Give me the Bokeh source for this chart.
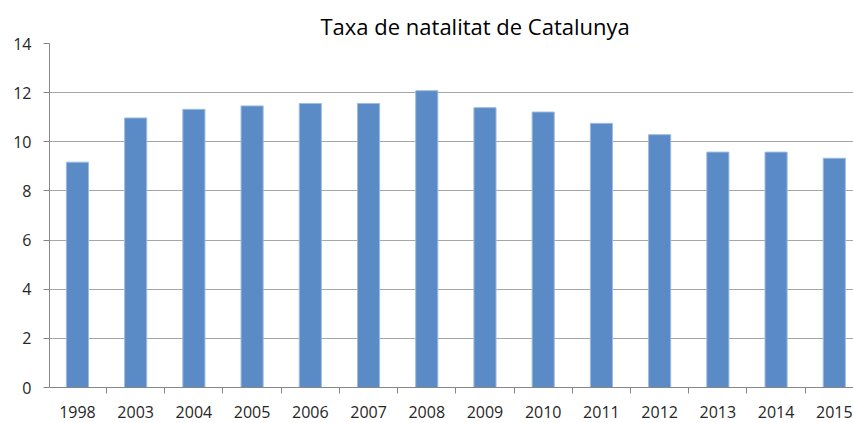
from bokeh.plotting import figure
from bokeh.models import Range1d, FixedTicker, Title
from bokeh.embed import file_html
from bokeh.resources import INLINE

years = ["1998", "2003", "2004", "2005", "2006", "2007", "2008",
         "2009", "2010", "2011", "2012", "2013", "2014", "2015"]
taxa = [9.17, 10.97, 11.32, 11.46, 11.56, 11.56, 12.08,
        11.39, 11.21, 10.75, 10.29, 9.58, 9.58, 9.33]
y_ticks = [0, 2, 4, 6, 8, 10, 12, 14]
title_text = "Taxa de natalitat de Catalunya"

xs = list(range(len(years)))

p = figure(width=853, height=423, output_backend="svg", toolbar_location=None,
           x_range=Range1d(-0.48, len(years) - 1 + 0.33), y_range=Range1d(0, 14),
           min_border_left=49, min_border_right=0, min_border_top=43, min_border_bottom=36)
p.outline_line_color = None
p.background_fill_color = "white"
p.border_fill_color = "white"

p.vbar(x=xs, top=taxa, width=0.38, bottom=0, fill_color="#5B8BC6", line_color="#9DBBE0", line_width=1)

font = "Open Sans"
p.xaxis.ticker = FixedTicker(ticks=xs, minor_ticks=[i - 0.5 for i in xs] + [len(xs) - 0.5])
p.xaxis.major_label_overrides = {i: y for i, y in enumerate(years)}
p.xaxis.major_tick_out = 0
p.xaxis.major_tick_in = 0
p.xaxis.minor_tick_out = 6
p.xaxis.minor_tick_in = 0
p.xaxis.minor_tick_line_color = "#868686"
p.xaxis.axis_line_color = "#868686"
p.xaxis.major_label_standoff = 12
p.xaxis.major_label_text_font = font
p.xaxis.major_label_text_font_size = "16px"
p.xaxis.major_label_text_color = "#262626"

p.yaxis.ticker = FixedTicker(ticks=y_ticks)
p.yaxis.major_tick_out = 6
p.yaxis.major_tick_in = 0
p.yaxis.minor_tick_line_color = None
p.yaxis.major_tick_line_color = "#868686"
p.yaxis.axis_line_color = "#868686"
p.yaxis.major_label_standoff = 12
p.yaxis.major_label_text_font = font
p.yaxis.major_label_text_font_size = "16px"
p.yaxis.major_label_text_color = "#262626"

p.xgrid.grid_line_color = None
p.ygrid.grid_line_color = "#A6A6A6"
p.ygrid.grid_line_width = 1
p.ygrid.ticker = FixedTicker(ticks=y_ticks)

t = Title(text=title_text, align="left", offset=271, text_font=font,
          text_font_size="22px", text_font_style="normal", text_color="#000000", standoff=5)
p.add_layout(t, "above")

open("out.html", "w").write(file_html(p, INLINE))
